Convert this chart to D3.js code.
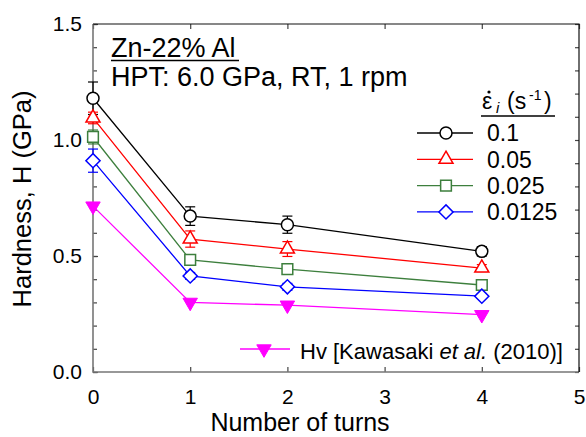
<!DOCTYPE html>
<html>
<head>
<meta charset="utf-8">
<script src="https://cdn.jsdelivr.net/npm/d3@7"></script>
<style>
  body { margin: 0; background: #fff; }
  text { font-family: Arial, "Liberation Sans", sans-serif; fill: #000; }
</style>
</head>
<body>
<svg id="chart" width="586" height="437"></svg>
<script>
// Data
var turns = [0, 1, 2, 4];
var rateLabels = ["0.1", "0.05", "0.025", "0.0125"];
var h01 = [1.18, 0.672, 0.635, 0.52];
var h005 = [1.095, 0.573, 0.53, 0.448];
var h0025 = [1.013, 0.483, 0.443, 0.375];
var h00125 = [0.911, 0.414, 0.367, 0.327];
var err01 = [0.07, 0.04, 0.037, 0.02];
var err005 = [0.025, 0.035, 0.032, 0.015];
var err0025 = [0.03, 0.015, 0.015, 0.01];
var err00125 = [0.05, 0.015, 0.015, 0.01];
var hvKawasaki = [0.715, 0.30, 0.288, 0.247];
var xTicks = [0, 1, 2, 3, 4, 5];
var yTicks = [0, 0.5, 1.0, 1.5];
var yMinor = d3.range(0, 1.51, 0.1);

var svg = d3.select("#chart");
var margin = { top: 24, right: 7, bottom: 65, left: 93 },
    width = 586 - margin.left - margin.right,
    height = 437 - margin.top - margin.bottom;

var x = d3.scaleLinear().domain([0, 5]).range([0, width]);
var y = d3.scaleLinear().domain([0, 1.5]).range([height, 0]);

var g = svg.append("g")
    .attr("transform", "translate(" + margin.left + "," + margin.top + ")");

// Axes with inside ticks
function styleAxis(sel) {
    sel.select(".domain").remove();
    sel.selectAll(".tick line").attr("stroke", "#444").attr("stroke-width", 1.2);
    sel.selectAll(".tick text").style("font-size", "21px").attr("fill", "#000");
}

g.append("g")
    .call(d3.axisLeft(y).tickValues(yMinor).tickSizeInner(-4).tickSizeOuter(0).tickFormat(""))
    .call(styleAxis);
g.append("g")
    .call(d3.axisLeft(y).tickValues(yTicks).tickSizeInner(-5).tickSizeOuter(0)
        .tickPadding(11).tickFormat(d3.format(".1f")))
    .call(styleAxis);
g.append("g")
    .attr("transform", "translate(" + width + ",0)")
    .call(d3.axisRight(y).tickValues(yMinor).tickSizeInner(-4).tickSizeOuter(0).tickFormat(""))
    .call(styleAxis);
g.append("g")
    .attr("transform", "translate(0," + height + ")")
    .call(d3.axisBottom(x).tickValues(xTicks).tickSizeInner(-5).tickSizeOuter(0)
        .tickPadding(17).tickFormat(d3.format("d")))
    .call(styleAxis);
g.append("g")
    .call(d3.axisTop(x).tickValues(xTicks).tickSizeInner(-5).tickSizeOuter(0).tickFormat(""))
    .call(styleAxis);

// Frame
g.append("path")
    .attr("d", "M0,0V" + height + "H" + width)
    .attr("fill", "none").attr("stroke", "#777").attr("stroke-width", 1.6);
g.append("path")
    .attr("d", "M0,0H" + width + "V" + height)
    .attr("fill", "none").attr("stroke", "#111").attr("stroke-width", 1.2);

var series = [
    { label: rateLabels[0], values: h01, err: err01, color: "#000000", shape: "circle" },
    { label: rateLabels[1], values: h005, err: err005, color: "#ff0000", shape: "triangle" },
    { label: rateLabels[2], values: h0025, err: err0025, color: "#3d7f3d", shape: "square" },
    { label: rateLabels[3], values: h00125, err: err00125, color: "#0000ff", shape: "diamond" }
];
var hv = { values: hvKawasaki, color: "#ff00ff", shape: "down" };

function symbolPath(shape) {
    if (shape == "circle") return d3.symbol(d3.symbolCircle, 113)();
    if (shape == "triangle") return d3.symbol(d3.symbolTriangle, 85)();
    if (shape == "square") return d3.symbol(d3.symbolSquare, 115)();
    if (shape == "diamond") return d3.symbol(d3.symbolSquare, 100)();
    return d3.symbol(d3.symbolTriangle, 90)();
}
function symbolTransform(shape, px, py) {
    var t = "translate(" + px + "," + py + ")";
    if (shape == "diamond") t += " rotate(45)";
    if (shape == "down") t += " rotate(180)";
    return t;
}

var line = d3.line()
    .x(function (d, i) { return x(turns[i]); })
    .y(function (d) { return y(d); });

// Hv reference line (drawn underneath)
g.append("path")
    .attr("d", line(hv.values))
    .attr("fill", "none").attr("stroke", hv.color).attr("stroke-width", 1.3);

series.forEach(function (s) {
    g.append("path")
        .attr("d", line(s.values))
        .attr("fill", "none").attr("stroke", s.color).attr("stroke-width", 1.3);

    // error bars
    var eb = g.append("g").attr("stroke", s.color).attr("stroke-width", 1.2);
    s.values.forEach(function (v, i) {
        var cx = x(turns[i]);
        eb.append("line")
            .attr("x1", cx).attr("x2", cx)
            .attr("y1", y(v - s.err[i])).attr("y2", y(v + s.err[i]));
        [v - s.err[i], v + s.err[i]].forEach(function (e) {
            eb.append("line")
                .attr("x1", cx - 5).attr("x2", cx + 5)
                .attr("y1", y(e)).attr("y2", y(e));
        });
    });
});

series.forEach(function (s) {
    g.selectAll(null)
        .data(s.values)
        .enter().append("path")
        .attr("d", symbolPath(s.shape))
        .attr("transform", function (d, i) { return symbolTransform(s.shape, x(turns[i]), y(d)); })
        .attr("fill", "#fff").attr("stroke", s.color).attr("stroke-width", 1.5);
});

g.selectAll(null)
    .data(hv.values)
    .enter().append("path")
    .attr("d", symbolPath(hv.shape))
    .attr("transform", function (d, i) { return symbolTransform(hv.shape, x(turns[i]), y(d)); })
    .attr("fill", hv.color).attr("stroke", hv.color).attr("stroke-width", 1);

// Title block
svg.append("text").attr("x", 111).attr("y", 57).style("font-size", "27px").text("Zn-22% Al");
svg.append("line").attr("x1", 111).attr("x2", 239).attr("y1", 60.5).attr("y2", 60.5)
    .attr("stroke", "#000").attr("stroke-width", 1.5);
svg.append("text").attr("x", 111).attr("y", 86).style("font-size", "27px").text("HPT: 6.0 GPa, RT, 1 rpm");

// Legend header: strain rate
svg.append("text").attr("x", 482).attr("y", 109).style("font-size", "23px").text("\u03b5");
svg.append("circle").attr("cx", 489).attr("cy", 92).attr("r", 1.6).attr("fill", "#000");
svg.append("text").attr("x", 496).attr("y", 113).style("font-size", "15px").style("font-style", "italic").text("i");
svg.append("text").attr("x", 507).attr("y", 109).style("font-size", "23px").text("(s");
svg.append("text").attr("x", 529).attr("y", 100).style("font-size", "14px").text("-1");
svg.append("text").attr("x", 544).attr("y", 109).style("font-size", "23px").text(")");
svg.append("line").attr("x1", 481).attr("x2", 555).attr("y1", 116).attr("y2", 116)
    .attr("stroke", "#000").attr("stroke-width", 1.5);

var legend = svg.append("g");
series.forEach(function (s, i) {
    var ly = 133 + i * 26.3;
    legend.append("line").attr("x1", 417).attr("x2", 473).attr("y1", ly).attr("y2", ly)
        .attr("stroke", s.color).attr("stroke-width", 1.3);
    legend.append("path").attr("d", symbolPath(s.shape))
        .attr("transform", symbolTransform(s.shape, 446, ly))
        .attr("fill", "#fff").attr("stroke", s.color).attr("stroke-width", 1.5);
    legend.append("text").attr("x", 487).attr("y", ly).attr("dy", "0.36em")
        .style("font-size", "23px").text(s.label);
});

legend.append("line").attr("x1", 240).attr("x2", 290).attr("y1", 349).attr("y2", 349)
    .attr("stroke", hv.color).attr("stroke-width", 1.3);
legend.append("path").attr("d", symbolPath(hv.shape))
    .attr("transform", symbolTransform(hv.shape, 264, 349))
    .attr("fill", hv.color).attr("stroke", hv.color).attr("stroke-width", 1);
var hvText = legend.append("text").attr("x", 300).attr("y", 359).style("font-size", "22px");
hvText.append("tspan").text("Hv [Kawasaki ");
hvText.append("tspan").style("font-style", "italic").text("et al.");
hvText.append("tspan").text(" (2010)]");

// Axis titles
svg.append("text")
    .attr("x", 300).attr("y", 431)
    .attr("text-anchor", "middle")
    .style("font-size", "25px")
    .text("Number of turns");
svg.append("text")
    .attr("transform", "translate(31,199) rotate(-90)")
    .attr("text-anchor", "middle")
    .style("font-size", "25.5px")
    .text("Hardness, H (GPa)");
</script>
</body>
</html>
